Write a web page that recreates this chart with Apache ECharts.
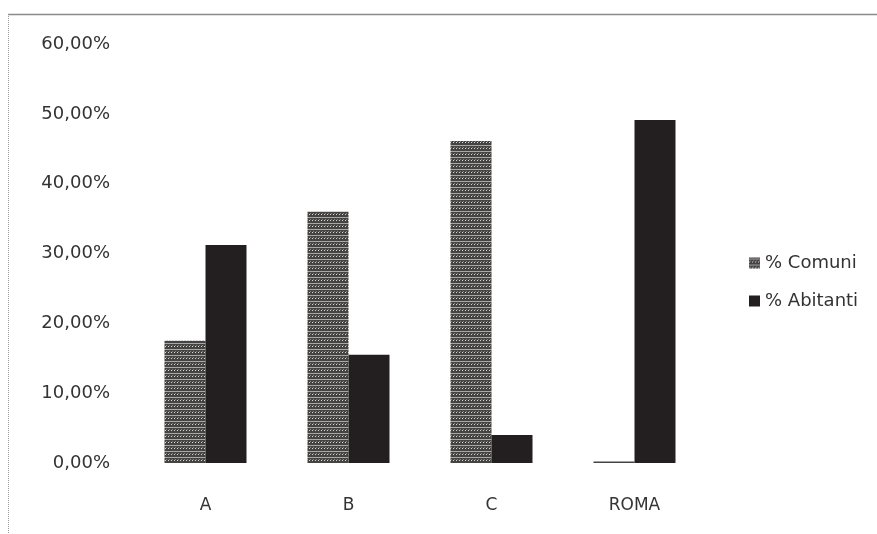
<!DOCTYPE html>
<html>
<head>
<meta charset="utf-8">
<script src="https://cdn.jsdelivr.net/npm/echarts@6/dist/echarts.min.js"></script>
<style>html,body{margin:0;padding:0;background:#fff}#c{width:877px;height:534px}</style>
</head>
<body>
<div id="c"></div>
<script>
const categories = ['A', 'B', 'C', 'ROMA'];
const comuni = [17.5, 36.0, 46.1, 0.2];
const abitanti = [31.2, 15.5, 4.0, 49.1];
const seriesNames = ['% Comuni', '% Abitanti'];

function makePattern() {
  const c = document.createElement('canvas');
  c.width = 6; c.height = 6;
  const g = c.getContext('2d');
  g.fillStyle = '#464343';
  g.fillRect(0, 0, 6, 6);
  g.fillStyle = '#a8a8a8';
  g.fillRect(0, 1, 6, 1);
  g.fillStyle = '#d8d8d8';
  g.fillRect(0, 4, 1, 1); g.fillRect(3, 4, 1, 1);
  g.fillStyle = '#858585';
  g.fillRect(1, 3, 1, 1); g.fillRect(4, 3, 1, 1);
  return c;
}

const chart = echarts.init(document.getElementById('c'));
const font = '"DejaVu Sans", sans-serif';
chart.setOption({
  animation: false,
  textStyle: { fontFamily: font },
  grid: { left: 134, right: 171, top: 44, bottom: 71 },
  legend: {
    orient: 'vertical', left: 744, top: 249, icon: 'rect',
    itemWidth: 11, itemHeight: 11, itemGap: 20,
    textStyle: { fontSize: 18, color: '#333', fontFamily: font },
    data: seriesNames
  },
  xAxis: {
    type: 'category', data: categories,
    axisLine: { show: false }, axisTick: { show: false },
    axisLabel: { fontSize: 17, color: '#333', margin: 34 }
  },
  yAxis: {
    type: 'value', min: 0, max: 60, interval: 10,
    axisLine: { show: false }, axisTick: { show: false },
    splitLine: { show: false },
    axisLabel: {
      fontSize: 18, color: '#333', margin: 24,
      formatter: v => v.toFixed(2).replace('.', ',') + '%'
    }
  },
  series: [
    {
      name: seriesNames[0], type: 'bar', data: comuni,
      barWidth: 41, barGap: '0%',
      itemStyle: { color: { image: makePattern(), repeat: 'repeat' } }
    },
    {
      name: seriesNames[1], type: 'bar', data: abitanti,
      barWidth: 41, barGap: '0%',
      itemStyle: { color: '#231f20' }
    }
  ],
  graphic: [
    { type: 'line', shape: { x1: 8, y1: 14.5, x2: 877, y2: 14.5 }, style: { stroke: '#8a8a8a', lineWidth: 1.5 } },
    { type: 'line', shape: { x1: 8.5, y1: 14, x2: 8.5, y2: 534 }, style: { stroke: '#9a9a9a', lineWidth: 1, lineDash: [1, 1] } }
  ]
});
</script>
</body>
</html>
